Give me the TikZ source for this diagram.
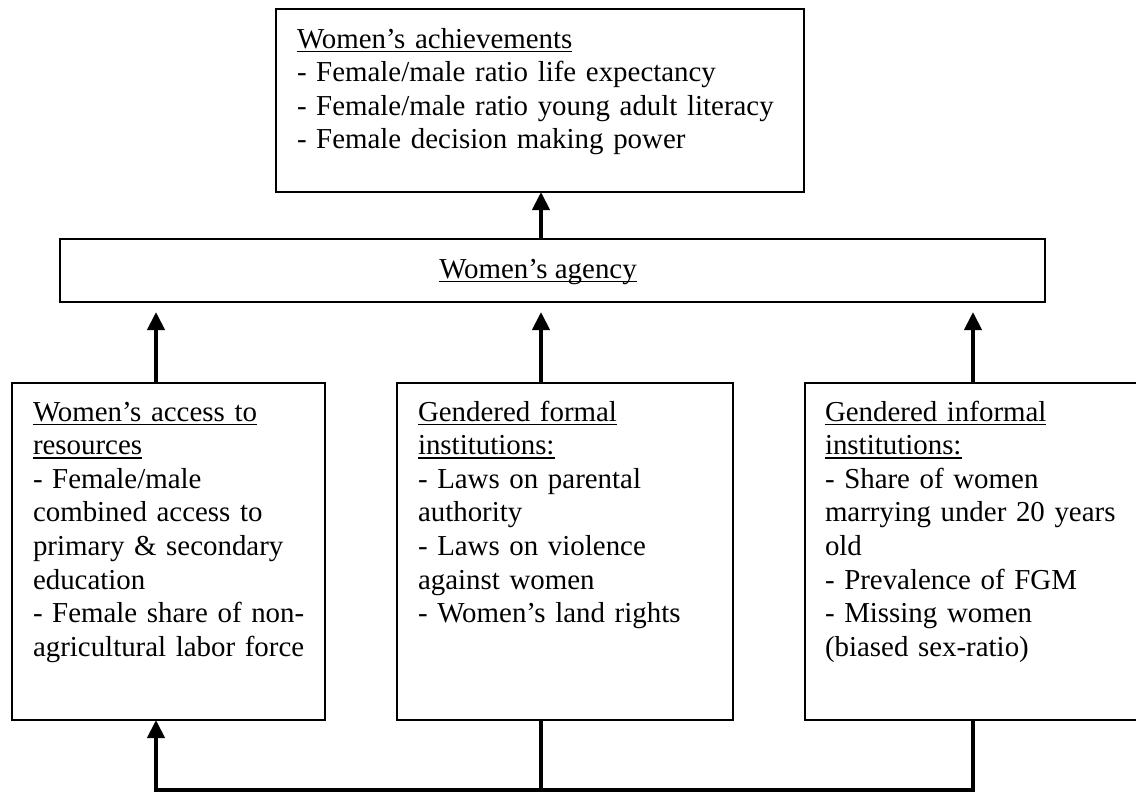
\documentclass[tikz,border=0pt]{standalone}
\usepackage{fontspec}
\setmainfont{Liberation Serif}
\usetikzlibrary{arrows.meta}
\newsavebox{\ulbox}
\newcommand{\myul}[1]{\leavevmode\sbox{\ulbox}{#1}\rlap{\rule[-4pt]{\wd\ulbox}{1.5pt}}\usebox{\ulbox}}
\begin{document}
\begin{tikzpicture}[x=1pt,y=-1pt,
  box/.style={draw, line width=1.8pt, rectangle, anchor=north west, inner sep=0pt, outer sep=0pt},
  txt/.style={anchor=north west, inner sep=0pt, outer sep=0pt, align=left, text width=#1, font=\fontsize{28.9pt}{33.6pt}\selectfont},
  arr/.style={line width=4pt, -{Triangle[width=17pt,length=18pt]}, line join=miter},
  conn/.style={line width=4pt, line join=miter}]
\clip (0,0) rectangle (1136,792);
\fill[white] (0,0) rectangle (1136,792);
% boxes
\node[box, minimum width=528pt, minimum height=183pt] (ach) at (276,9) {};
\node[box, minimum width=985pt, minimum height=63pt] (agency) at (60,239) {};
\node[box, minimum width=313pt, minimum height=337pt] (lbox) at (12,383) {};
\node[box, minimum width=336pt, minimum height=337pt] (mbox) at (397,383) {};
\node[box, minimum width=345pt, minimum height=337pt] (rbox) at (805,383) {};
% texts
\node[txt=500pt] (achT) at (297,24.5) {\strut\myul{Women’s achievements}\\- Female/male ratio life expectancy\\- Female/male ratio young adult literacy\\- Female decision making power};
\node[anchor=base, inner sep=0pt, font=\fontsize{28.9pt}{33.6pt}\selectfont] (agT) at (538,278) {\myul{Women’s agency}};
\node[txt=300pt] (lT) at (33,397.5) {\strut\myul{Women’s access to}\\\myul{resources}\\- Female/male\\combined access to\\primary \& secondary\\education\\- Female share of non-\\agricultural labor force};
\node[txt=310pt] (mT) at (418,397.5) {\strut\myul{Gendered formal}\\\myul{institutions:}\\- Laws on parental\\authority\\- Laws on violence\\against women\\- Women’s land rights};
\node[txt=310pt] (rT) at (825,397.5) {\strut\myul{Gendered informal}\\\myul{institutions:}\\- Share of women\\marrying under 20 years\\old\\- Prevalence of FGM\\- Missing women\\(biased sex-ratio)};
% connector columns
\coordinate (c1) at (156,0);
\coordinate (c2) at (541,0);
\coordinate (c3) at (973,0);
\coordinate (bus) at (0,790);
% arrows
\draw[arr] (agency.north -| c2) -- (ach.south -| c2);
\draw[arr, shorten >=10pt] (lbox.north -| c1) -- (agency.south -| c1);
\draw[arr, shorten >=10pt] (mbox.north -| c2) -- (agency.south -| c2);
\draw[arr, shorten >=10pt] (rbox.north -| c3) -- (agency.south -| c3);
\draw[arr] (mbox.south -| c2) -- (bus -| c2) -- (bus -| c1) -- (lbox.south -| c1);
\draw[conn] (rbox.south -| c3) -- (bus -| c3) -- (bus -| c2);
\end{tikzpicture}
\end{document}
